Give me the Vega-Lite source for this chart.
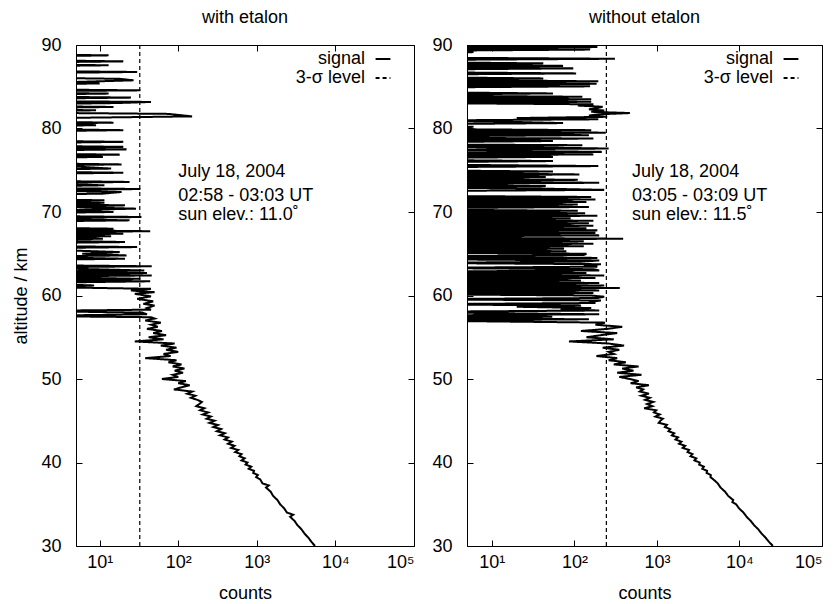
{
"$schema": "https://vega.github.io/schema/vega-lite/v6.json",
"padding": {"left": 12, "top": 8, "right": 0, "bottom": 2},
"background": "white",
"config": {
  "font": "Liberation Sans",
  "view": {"stroke": "black", "strokeWidth": 1},
  "axis": {"labelFont": "Liberation Sans", "labelFontSize": 18, "labelColor": "black", "titleFont": "Liberation Sans", "titleFontSize": 18, "titleFontWeight": "normal", "titleColor": "black", "domain": false, "grid": false, "tickColor": "black", "tickSize": -6, "tickWidth": 1, "labelPadding": 21, "titlePadding": 10},
  "axisX": {"labelPadding": 13, "titlePadding": 13},
  "title": {"font": "Liberation Sans", "fontSize": 18, "fontWeight": "normal", "color": "black", "offset": 9},
  "legend": {"orient": "none", "title": null, "labelFont": "Liberation Sans", "labelFontSize": 18, "labelColor": "black", "symbolType": "stroke", "symbolSize": 220, "symbolStrokeWidth": 2, "symbolStrokeColor": "black", "labelAlign": "right", "labelOffset": -27, "rowPadding": 1, "padding": 0}
},
"datasets": {
"L": [
{"a":30,"c":5500},{"a":30.5,"c":4950},{"a":31,"c":4520},{"a":31.5,"c":4030},{"a":32,"c":3700},{"a":32.5,"c":3280},{"a":33,"c":3020},{"a":33.5,"c":2650},{"a":33.75,"c":2900},{"a":34,"c":2420},{"a":34.5,"c":2230},{"a":35,"c":1980},{"a":35.5,"c":1830},{"a":36,"c":1610},{"a":36.5,"c":1500},{"a":37,"c":1310},{"a":37.25,"c":1420},{"a":37.5,"c":1180},{"a":38,"c":1100},
{"a":38.25,"c":980},{"a":38.5,"c":1030},{"a":38.75,"c":900},{"a":39,"c":920},{"a":39.25,"c":790},{"a":39.5,"c":850},{"a":39.75,"c":720},{"a":40,"c":760},{"a":40.25,"c":640},{"a":40.5,"c":700},{"a":40.75,"c":600},{"a":41,"c":640},{"a":41.25,"c":530},{"a":41.5,"c":580},{"a":41.75,"c":470},{"a":42,"c":520},{"a":42.25,"c":430},{"a":42.5,"c":480},{"a":42.75,"c":390},{"a":43,"c":430},{"a":43.25,"c":340},{"a":43.5,"c":390},{"a":43.75,"c":310},{"a":44,"c":350},{"a":44.25,"c":280},{"a":44.5,"c":320},{"a":44.75,"c":250},{"a":45,"c":290},{"a":45.25,"c":230},{"a":45.5,"c":260},{"a":45.75,"c":205},{"a":46,"c":240},{"a":46.25,"c":190},{"a":46.5,"c":215},{"a":46.75,"c":170},{"a":47,"c":185},
{"a":47.25,"c":200},{"a":47.5,"c":175},{"a":47.75,"c":145},{"a":48,"c":165},{"a":48.25,"c":130},{"a":48.5,"c":150},{"a":48.75,"c":88},{"a":49,"c":110},{"a":49.25,"c":140},{"a":49.5,"c":100},{"a":49.75,"c":125},{"a":50,"c":62},{"a":50.25,"c":100},{"a":50.5,"c":85},{"a":50.75,"c":115},{"a":51,"c":90},{"a":51.25,"c":120},{"a":51.5,"c":85},{"a":51.75,"c":110},{"a":52,"c":75},{"a":52.25,"c":95},{"a":52.5,"c":38},{"a":52.75,"c":80},{"a":53,"c":65},{"a":53.25,"c":100},{"a":53.5,"c":70},{"a":53.75,"c":95},{"a":54,"c":60},{"a":54.25,"c":90},{"a":54.5,"c":28},{"a":54.75,"c":65},{"a":55,"c":42},{"a":55.25,"c":70},{"a":55.5,"c":48},{"a":55.75,"c":62},{"a":56,"c":40},{"a":56.25,"c":55},{"a":56.5,"c":45},{"a":56.75,"c":60},{"a":57,"c":38},{"a":57.25,"c":50},
{"a":57.4,"c":45},{"a":57.55,"c":1},{"a":57.75,"c":40},{"a":57.95,"c":35},{"a":58.15,"c":1},{"a":58.3,"c":45},{"a":58.5,"c":40},{"a":58.8,"c":50},{"a":59,"c":36},{"a":59.3,"c":48},{"a":59.6,"c":30},{"a":59.9,"c":45},{"a":60.2,"c":28},{"a":60.4,"c":50},{"a":60.6,"c":25},{"a":60.8,"c":45},{"a":61.05,"c":1},{"a":61.2,"c":8.5},{"a":61.5,"c":1},{"a":61.7,"c":44},{"a":61.85,"c":1},{"a":62,"c":33},{"a":62.25,"c":1},{"a":62.4,"c":46},{"a":62.55,"c":1},{"a":62.7,"c":40},{"a":62.85,"c":1},{"a":63,"c":37},{"a":63.35,"c":1},{"a":63.5,"c":46},{"a":63.65,"c":1},{"a":64.25,"c":1},{"a":64.4,"c":21},{"a":64.65,"c":1},{"a":64.8,"c":22},{"a":65,"c":6},{"a":65.2,"c":18},{"a":65.4,"c":4},{"a":65.65,"c":1},{"a":65.8,"c":30},{"a":65.95,"c":1},{"a":66.25,"c":1},{"a":66.4,"c":21},{"a":66.65,"c":1},{"a":66.8,"c":11},{"a":66.95,"c":1},{"a":67.1,"c":14},{"a":67.25,"c":1},{"a":67.4,"c":20},{"a":67.55,"c":1},{"a":67.7,"c":44},{"a":67.85,"c":1},{"a":68,"c":15},{"a":68.15,"c":1},{"a":68.85,"c":1},{"a":69,"c":24},{"a":69.25,"c":1},{"a":69.4,"c":34},{"a":69.55,"c":1},{"a":69.85,"c":1},{"a":70,"c":15},{"a":70.2,"c":3},{"a":70.4,"c":29},{"a":70.6,"c":4},{"a":70.8,"c":21},{"a":70.95,"c":1},{"a":71.1,"c":11.5},{"a":71.25,"c":1},{"a":71.4,"c":11.5},{"a":71.55,"c":1},{"a":72.05,"c":1},{"a":72.2,"c":11},{"a":72.4,"c":19},{"a":72.6,"c":1},{"a":72.75,"c":33},{"a":72.9,"c":1},{"a":73.05,"c":1},{"a":73.2,"c":11.5},{"a":73.45,"c":1},{"a":73.6,"c":24},{"a":73.75,"c":1},{"a":74.55,"c":1},{"a":74.7,"c":20},{"a":74.85,"c":1},{"a":75.05,"c":1},{"a":75.2,"c":14},{"a":75.4,"c":6},{"a":75.55,"c":1},{"a":75.7,"c":19},{"a":75.85,"c":1},{"a":76.45,"c":1},{"a":76.6,"c":11},{"a":76.75,"c":1},{"a":76.87,"c":18},{"a":77,"c":1},{"a":77.35,"c":1},{"a":77.5,"c":22},{"a":77.65,"c":1},{"a":77.8,"c":20},{"a":77.95,"c":1},{"a":78.25,"c":1},{"a":78.4,"c":20},{"a":78.55,"c":1},{"a":79.65,"c":1},{"a":79.8,"c":20},{"a":79.95,"c":1},{"a":80.25,"c":1},{"a":80.4,"c":9},{"a":80.55,"c":1},{"a":80.7,"c":15},{"a":80.85,"c":1},{"a":81.2,"c":1},{"a":81.45,"c":150},{"a":81.75,"c":75},{"a":81.9,"c":1},{"a":82.05,"c":1},{"a":82.18,"c":9},{"a":82.3,"c":1},{"a":82.45,"c":1},{"a":82.58,"c":15},{"a":82.7,"c":1},{"a":82.9,"c":1},{"a":83.05,"c":17},{"a":83.18,"c":45},{"a":83.3,"c":1},{"a":83.55,"c":1},{"a":83.7,"c":25},{"a":83.85,"c":1},{"a":84.05,"c":1},{"a":84.18,"c":13},{"a":84.3,"c":1},{"a":84.45,"c":1},{"a":84.57,"c":33},{"a":84.7,"c":1},{"a":85.25,"c":1},{"a":85.4,"c":10},{"a":85.55,"c":4},{"a":85.77,"c":27},{"a":85.95,"c":18},{"a":86.1,"c":1},{"a":86.62,"c":1},{"a":86.77,"c":30},{"a":86.9,"c":1},{"a":87.45,"c":1},{"a":87.57,"c":13},{"a":87.7,"c":1},{"a":87.9,"c":1},{"a":88.04,"c":20},{"a":88.2,"c":1},{"a":88.6,"c":1},{"a":88.76,"c":13},{"a":88.9,"c":1}
],
"R": [
{"a":30,"c":25400},{"a":30.5,"c":22800},{"a":31,"c":20700},{"a":31.5,"c":18500},{"a":32,"c":16900},{"a":32.5,"c":15000},{"a":33,"c":13700},{"a":33.5,"c":12200},{"a":34,"c":11200},{"a":34.5,"c":9900},{"a":35,"c":9100},{"a":35.25,"c":8200},{"a":35.5,"c":8400},{"a":36,"c":7300},{"a":36.5,"c":6700},{"a":37,"c":5900},{"a":37.5,"c":5450},{"a":38,"c":4800},{"a":38.25,"c":4450},{"a":38.5,"c":4500},{"a":38.75,"c":4000},{"a":39,"c":4050},{"a":39.25,"c":3550},{"a":39.5,"c":3700},{"a":39.75,"c":3250},{"a":40,"c":3300},{"a":40.25,"c":2850},{"a":40.5,"c":3000},{"a":40.75,"c":2550},{"a":41,"c":2700},{"a":41.25,"c":2350},{"a":41.5,"c":2450},{"a":41.75,"c":2050},{"a":42,"c":2200},{"a":42.25,"c":1850},{"a":42.5,"c":1980},{"a":42.75,"c":1680},{"a":43,"c":1800},{"a":43.25,"c":1520},{"a":43.5,"c":1620},{"a":43.75,"c":1380},{"a":44,"c":1450},{"a":44.25,"c":1250},{"a":44.5,"c":1320},{"a":44.75,"c":1050},{"a":45,"c":1100},{"a":45.25,"c":1180},{"a":45.5,"c":960},{"a":45.75,"c":1080},{"a":46,"c":920},{"a":46.25,"c":980},{"a":46.5,"c":700},{"a":46.75,"c":880},{"a":47,"c":760},{"a":47.25,"c":900},{"a":47.5,"c":720},{"a":47.75,"c":820},{"a":48,"c":650},{"a":48.25,"c":800},{"a":48.5,"c":620},{"a":48.75,"c":680},{"a":49,"c":560},{"a":49.25,"c":800},{"a":49.5,"c":480},{"a":49.75,"c":600},{"a":50,"c":470},{"a":50.25,"c":350},{"a":50.5,"c":650},{"a":50.75,"c":330},{"a":51,"c":520},{"a":51.25,"c":380},{"a":51.5,"c":600},{"a":51.75,"c":300},{"a":52,"c":420},{"a":52.25,"c":260},{"a":52.5,"c":330},{"a":52.75,"c":185},{"a":53,"c":300},{"a":53.25,"c":260},{"a":53.5,"c":350},{"a":53.75,"c":220},{"a":54,"c":400},{"a":54.25,"c":260},{"a":54.5,"c":86},{"a":54.75,"c":300},{"a":55,"c":140},{"a":55.25,"c":210},{"a":55.5,"c":330},{"a":55.75,"c":120},{"a":56,"c":250},{"a":56.25,"c":380},{"a":56.5,"c":180},{"a":56.75,"c":235},
{"a":57,"c":1},{"a":57.15,"c":150},{"a":57.3,"c":1},{"a":57.45,"c":54},{"a":57.6,"c":1},{"a":57.75,"c":200},{"a":57.9,"c":8},{"a":58.05,"c":1},{"a":58.2,"c":200},{"a":58.35,"c":68},{"a":58.5,"c":160},{"a":58.65,"c":20},{"a":58.8,"c":120},{"a":58.95,"c":1},{"a":59.1,"c":180},{"a":59.25,"c":150},{"a":59.4,"c":210},{"a":59.55,"c":1},{"a":59.7,"c":190},{"a":59.85,"c":230},{"a":60,"c":160},{"a":60.15,"c":1},{"a":60.3,"c":170},{"a":60.45,"c":1},{"a":60.6,"c":200},{"a":60.75,"c":1},{"a":60.9,"c":355},{"a":61.05,"c":1},{"a":61.2,"c":230},{"a":61.35,"c":1},{"a":61.5,"c":200},{"a":61.65,"c":1},{"a":61.8,"c":120},{"a":61.95,"c":1},{"a":62.1,"c":180},{"a":62.25,"c":1},{"a":62.4,"c":230},{"a":62.55,"c":1},{"a":62.7,"c":140},{"a":62.85,"c":1},{"a":63,"c":200},{"a":63.15,"c":170},{"a":63.3,"c":1},{"a":63.45,"c":190},{"a":63.6,"c":130},{"a":63.75,"c":210},{"a":63.9,"c":1},{"a":64.05,"c":120},{"a":64.2,"c":200},{"a":64.35,"c":1},{"a":64.5,"c":190},{"a":64.7,"c":1},{"a":64.85,"c":130},{"a":65,"c":140},{"a":65.15,"c":1},{"a":65.3,"c":80},{"a":65.45,"c":1},{"a":65.6,"c":75},{"a":65.75,"c":1},{"a":65.9,"c":130},{"a":66.05,"c":1},{"a":66.2,"c":170},{"a":66.35,"c":1},{"a":66.5,"c":130},{"a":66.65,"c":1},{"a":66.8,"c":390},{"a":66.95,"c":1},{"a":67.05,"c":1},{"a":67.2,"c":200},{"a":67.35,"c":1},{"a":67.5,"c":180},{"a":67.65,"c":1},{"a":67.8,"c":190},{"a":67.9,"c":1},{"a":68.05,"c":140},{"a":68.2,"c":1},{"a":68.35,"c":170},{"a":68.5,"c":1},{"a":68.65,"c":150},{"a":68.8,"c":1},{"a":68.95,"c":170},{"a":69.1,"c":1},{"a":69.25,"c":90},{"a":69.4,"c":1},{"a":69.55,"c":190},{"a":69.7,"c":1},{"a":69.85,"c":135},{"a":70,"c":1},{"a":70.15,"c":110},{"a":70.3,"c":1},{"a":70.45,"c":1},{"a":70.6,"c":150},{"a":70.75,"c":1},{"a":70.9,"c":110},{"a":71.05,"c":1},{"a":71.2,"c":140},{"a":71.35,"c":1},{"a":71.5,"c":180},{"a":71.65,"c":1},{"a":71.8,"c":160},{"a":71.95,"c":1},{"a":72.35,"c":1},{"a":72.5,"c":1},{"a":72.65,"c":230},{"a":72.8,"c":40},{"a":72.95,"c":1},{"a":73.1,"c":45},{"a":73.35,"c":1},{"a":73.5,"c":200},{"a":73.7,"c":1},{"a":73.85,"c":110},{"a":74.05,"c":1},{"a":74.2,"c":45},{"a":74.35,"c":1},{"a":74.5,"c":115},{"a":74.7,"c":1},{"a":74.85,"c":55},{"a":75,"c":1},{"a":75.35,"c":1},{"a":75.5,"c":195},{"a":75.7,"c":1},{"a":75.95,"c":1},{"a":76.1,"c":55},{"a":76.25,"c":1},{"a":76.45,"c":1},{"a":76.6,"c":55},{"a":76.75,"c":1},{"a":76.9,"c":170},{"a":77.05,"c":1},{"a":77.2,"c":215},{"a":77.45,"c":1},{"a":77.6,"c":260},{"a":77.7,"c":55},{"a":77.85,"c":1},{"a":78,"c":125},{"a":78.1,"c":1},{"a":78.35,"c":1},{"a":78.5,"c":55},{"a":78.65,"c":1},{"a":78.8,"c":170},{"a":78.9,"c":1},{"a":79.05,"c":1},{"a":79.2,"c":150},{"a":79.35,"c":1},{"a":79.5,"c":240},{"a":79.65,"c":1},{"a":79.8,"c":160},{"a":79.95,"c":1},{"a":80.05,"c":1},{"a":80.2,"c":6},{"a":80.35,"c":1},{"a":80.5,"c":1},{"a":80.65,"c":73},{"a":80.8,"c":16},{"a":80.95,"c":1},{"a":81.1,"c":195},{"a":81.25,"c":20},{"a":81.4,"c":250},{"a":81.55,"c":150},{"a":81.7,"c":200},{"a":81.85,"c":470},{"a":82,"c":160},{"a":82.15,"c":230},{"a":82.3,"c":150},{"a":82.45,"c":190},{"a":82.6,"c":220},{"a":82.75,"c":110},{"a":82.9,"c":170},{"a":83.05,"c":1},{"a":83.2,"c":160},{"a":83.35,"c":1},{"a":83.5,"c":160},{"a":83.65,"c":1},{"a":83.8,"c":125},{"a":83.95,"c":1},{"a":84.05,"c":1},{"a":84.2,"c":55},{"a":84.35,"c":1},{"a":84.9,"c":1},{"a":85.05,"c":155},{"a":85.2,"c":1},{"a":85.35,"c":186},{"a":85.5,"c":1},{"a":85.65,"c":195},{"a":85.85,"c":1},{"a":86,"c":42},{"a":86.15,"c":1},{"a":86.45,"c":1},{"a":86.6,"c":105},{"a":86.75,"c":1},{"a":87.05,"c":1},{"a":87.2,"c":97},{"a":87.35,"c":1},{"a":87.5,"c":73},{"a":87.65,"c":1},{"a":87.8,"c":42},{"a":87.95,"c":1},{"a":88.2,"c":1},{"a":88.35,"c":310},{"a":88.5,"c":1},{"a":88.7,"c":1},{"a":88.85,"c":1},{"a":89,"c":1},{"a":89.15,"c":6},{"a":89.3,"c":1},{"a":89.45,"c":155},{"a":89.6,"c":1},{"a":89.75,"c":190},{"a":89.9,"c":1},{"a":90.05,"c":170},{"a":90.2,"c":1}
]
},
"bounds": "flush",
"spacing": 53,
"resolve": {"scale": {"strokeDash": "independent"}, "legend": {"strokeDash": "independent"}},
"hconcat": [
{
  "width": 338, "height": 501,
  "title": "with etalon",
  "resolve": {"axis": {"x": "independent", "y": "independent"}},
  "layer": [
    {
      "data": {"name": "L"},
      "mark": {"type": "line", "clip": true, "color": "black", "strokeWidth": 2},
      "encoding": {
        "x": {"field": "c", "type": "quantitative", "scale": {"type": "log", "domain": [5, 100000], "nice": false}, "axis": {"orient": "bottom", "values": [10, 100, 1000, 10000, 100000], "labelExpr": "datum.value == 10 ? '10¹' : datum.value == 100 ? '10²' : datum.value == 1000 ? '10³' : datum.value == 10000 ? '10⁴' : '10⁵'", "title": "counts"}},
        "y": {"field": "a", "type": "quantitative", "scale": {"domain": [30, 90], "nice": false, "zero": false}, "axis": {"orient": "left", "values": [30, 40, 50, 60, 70, 80, 90], "title": "altitude / km"}},
        "order": {"field": "a", "type": "quantitative"},
        "strokeDash": {"datum": "signal", "type": "nominal", "scale": {"domain": ["signal", "3-σ level"], "range": [[1, 0], [4, 3]]}, "legend": {"legendX": 298, "legendY": 5}}
      }
    },
    {
      "data": {"values": [{"s": 32.4}]},
      "mark": {"type": "rule", "color": "black", "strokeWidth": 1.2},
      "encoding": {
        "x": {"field": "s", "type": "quantitative", "scale": {"type": "log", "domain": [5, 100000], "nice": false}, "axis": null},
        "strokeDash": {"datum": "3-σ level", "type": "nominal"}
      }
    },
    {
      "data": {"values": [{"x": 100, "y": 74.8, "t": "July 18, 2004"}, {"x": 100, "y": 71.9, "t": "02:58 - 03:03 UT"}, {"x": 100, "y": 69.6, "t": "sun elev.: 11.0˚"}]},
      "mark": {"type": "text", "align": "left", "baseline": "middle", "fontSize": 18, "color": "black", "font": "Liberation Sans"},
      "encoding": {
        "x": {"field": "x", "type": "quantitative", "scale": {"type": "log", "domain": [5, 100000], "nice": false}, "axis": {"orient": "top", "values": [10, 100, 1000, 10000, 100000], "labels": false, "title": null}},
        "y": {"field": "y", "type": "quantitative", "scale": {"domain": [30, 90], "nice": false, "zero": false}, "axis": {"orient": "right", "values": [30, 40, 50, 60, 70, 80, 90], "labels": false, "title": null}},
        "text": {"field": "t"}
      }
    }
  ]
},
{
  "width": 355, "height": 501,
  "title": "without etalon",
  "resolve": {"axis": {"x": "independent", "y": "independent"}},
  "layer": [
    {
      "data": {"name": "R"},
      "mark": {"type": "line", "clip": true, "color": "black", "strokeWidth": 2},
      "encoding": {
        "x": {"field": "c", "type": "quantitative", "scale": {"type": "log", "domain": [5, 100000], "nice": false}, "axis": {"orient": "bottom", "values": [10, 100, 1000, 10000, 100000], "labelExpr": "datum.value == 10 ? '10¹' : datum.value == 100 ? '10²' : datum.value == 1000 ? '10³' : datum.value == 10000 ? '10⁴' : '10⁵'", "title": "counts"}},
        "y": {"field": "a", "type": "quantitative", "scale": {"domain": [30, 90], "nice": false, "zero": false}, "axis": {"orient": "left", "values": [30, 40, 50, 60, 70, 80, 90], "title": null}},
        "order": {"field": "a", "type": "quantitative"},
        "strokeDash": {"datum": "signal", "type": "nominal", "scale": {"domain": ["signal", "3-σ level"], "range": [[1, 0], [4, 3]]}, "legend": {"legendX": 315, "legendY": 5}}
      }
    },
    {
      "data": {"values": [{"s": 244}]},
      "mark": {"type": "rule", "color": "black", "strokeWidth": 1.2},
      "encoding": {
        "x": {"field": "s", "type": "quantitative", "scale": {"type": "log", "domain": [5, 100000], "nice": false}, "axis": null},
        "strokeDash": {"datum": "3-σ level", "type": "nominal"}
      }
    },
    {
      "data": {"values": [{"x": 500, "y": 74.8, "t": "July 18, 2004"}, {"x": 500, "y": 71.9, "t": "03:05 - 03:09 UT"}, {"x": 500, "y": 69.6, "t": "sun elev.: 11.5˚"}]},
      "mark": {"type": "text", "align": "left", "baseline": "middle", "fontSize": 18, "color": "black", "font": "Liberation Sans"},
      "encoding": {
        "x": {"field": "x", "type": "quantitative", "scale": {"type": "log", "domain": [5, 100000], "nice": false}, "axis": {"orient": "top", "values": [10, 100, 1000, 10000, 100000], "labels": false, "title": null}},
        "y": {"field": "y", "type": "quantitative", "scale": {"domain": [30, 90], "nice": false, "zero": false}, "axis": {"orient": "right", "values": [30, 40, 50, 60, 70, 80, 90], "labels": false, "title": null}},
        "text": {"field": "t"}
      }
    }
  ]
}
]
}
